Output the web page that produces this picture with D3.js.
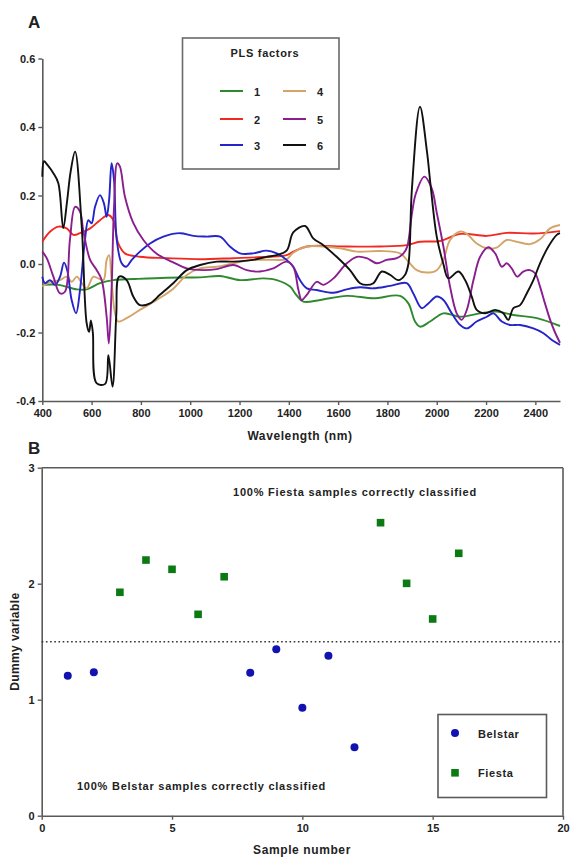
<!DOCTYPE html>
<html><head><meta charset="utf-8">
<script src="https://cdn.jsdelivr.net/npm/d3@7"></script>
<style>
body{margin:0;background:#fff;}
text{font-family:"Liberation Sans",Arial,sans-serif;font-weight:bold;fill:#222;}
</style></head>
<body><svg id="c" width="570" height="857"></svg>
<script>
// ---------- Panel A data: PLS factor loadings ----------
const factorNames = ["1","2","3","4","5","6"];
const factorColors = ["#2f8a2f","#f02a20","#2424c8","#d4a468","#8a1e8e","#111111"];
const f1 = [[400,-0.061],[465,-0.061],[540,-0.074],[580,-0.074],[634,-0.056],[688,-0.047],[769,-0.044],[905,-0.04],[1040,-0.039],[1121,-0.035],[1202,-0.047],[1297,-0.042],[1351,-0.047],[1405,-0.066],[1430,-0.09],[1459,-0.11],[1527,-0.105],[1635,-0.093],[1743,-0.1],[1851,-0.093],[1885,-0.115],[1912,-0.168],[1932,-0.183],[1973,-0.168],[2027,-0.144],[2095,-0.154],[2176,-0.144],[2243,-0.139],[2311,-0.149],[2406,-0.158],[2500,-0.181]];
const f2 = [[400,0.065],[431,0.094],[465,0.109],[499,0.104],[526,0.085],[553,0.09],[594,0.104],[634,0.128],[668,0.143],[688,0.128],[708,0.06],[735,0.031],[796,0.021],[905,0.017],[1040,0.014],[1175,0.017],[1311,0.021],[1391,0.026],[1418,0.036],[1473,0.051],[1635,0.051],[1770,0.051],[1878,0.055],[1932,0.065],[2013,0.067],[2095,0.088],[2203,0.082],[2284,0.091],[2392,0.089],[2500,0.096]];
const f3 = [[400,-0.037],[411,-0.056],[431,-0.047],[452,-0.061],[472,-0.037],[488,0.004],[501,-0.018],[519,-0.105],[537,-0.144],[553,-0.076],[573,0.07],[587,0.128],[600,0.119],[614,0.167],[634,0.201],[650,0.177],[661,0.138],[671,0.187],[681,0.294],[691,0.245],[702,0.07],[722,0.002],[740,-0.008],[763,0.012],[796,0.036],[837,0.06],[891,0.08],[959,0.09],[1013,0.082],[1067,0.08],[1121,0.08],[1161,0.051],[1202,0.031],[1256,0.031],[1310,0.039],[1351,0.031],[1391,0.012],[1418,-0.008],[1445,-0.047],[1473,-0.071],[1513,-0.076],[1581,-0.084],[1635,-0.074],[1689,-0.068],[1743,-0.071],[1811,-0.064],[1878,-0.056],[1905,-0.086],[1939,-0.129],[1966,-0.115],[2000,-0.095],[2027,-0.105],[2061,-0.144],[2095,-0.178],[2122,-0.188],[2162,-0.168],[2203,-0.154],[2230,-0.144],[2264,-0.168],[2297,-0.178],[2338,-0.178],[2392,-0.188],[2433,-0.202],[2467,-0.222],[2500,-0.236]];
const f4 = [[400,-0.066],[431,-0.052],[472,-0.047],[499,-0.037],[519,-0.052],[540,-0.037],[560,-0.056],[580,-0.071],[607,-0.037],[627,-0.042],[648,-0.047],[661,0.012],[671,0.026],[681,-0.047],[695,-0.144],[708,-0.168],[742,-0.158],[796,-0.134],[864,-0.105],[931,-0.072],[986,-0.032],[1040,-0.013],[1108,-0.008],[1175,0.002],[1256,0.012],[1337,0.012],[1391,0.014],[1418,0.033],[1473,0.051],[1540,0.051],[1608,0.046],[1676,0.036],[1770,0.038],[1851,0.031],[1885,0.007],[1919,-0.018],[1959,-0.025],[2000,-0.018],[2027,0.012],[2054,0.07],[2095,0.095],[2122,0.088],[2162,0.06],[2203,0.046],[2243,0.048],[2284,0.07],[2324,0.065],[2378,0.058],[2419,0.072],[2460,0.104],[2500,0.114]];
const f5 = [[400,0.036],[418,0.017],[445,-0.037],[472,-0.086],[492,-0.081],[512,0.07],[533,0.167],[553,0.153],[566,0.099],[594,0.012],[621,-0.018],[641,-0.047],[661,-0.154],[670,-0.232],[681,-0.076],[691,0.167],[704,0.294],[715,0.284],[735,0.197],[769,0.12],[810,0.07],[864,0.03],[931,0.005],[986,-0.013],[1053,-0.018],[1108,-0.015],[1176,-0.003],[1229,-0.018],[1283,-0.022],[1337,-0.013],[1391,0.007],[1418,-0.008],[1439,-0.076],[1452,-0.105],[1473,-0.09],[1513,-0.052],[1540,-0.061],[1581,-0.042],[1635,0.002],[1676,0.021],[1716,0.017],[1757,0.002],[1797,0.012],[1838,0.017],[1865,0.031],[1880,0.05],[1900,0.15],[1915,0.205],[1950,0.255],[1980,0.22],[2000,0.15],[2027,0.051],[2054,-0.066],[2081,-0.144],[2101,-0.163],[2122,-0.134],[2149,-0.047],[2176,0.021],[2209,0.049],[2237,0.031],[2264,-0.008],[2284,0.002],[2304,-0.013],[2327,-0.037],[2351,-0.022],[2378,-0.018],[2399,-0.027],[2419,-0.066],[2439,-0.115],[2460,-0.163],[2480,-0.2],[2500,-0.23]];
const f6 = [[400,0.255],[407,0.30],[420,0.29],[445,0.265],[465,0.236],[485,0.105],[500,0.18],[515,0.27],[533,0.328],[560,0.109],[580,-0.173],[590,-0.198],[597,-0.165],[605,-0.2],[620,-0.348],[655,-0.35],[668,-0.266],[685,-0.358],[700,-0.15],[712,-0.037],[742,-0.047],[769,-0.095],[796,-0.12],[837,-0.115],[877,-0.09],[931,-0.056],[986,-0.018],[1040,-0.003],[1108,0.007],[1174,0.007],[1255,0.012],[1311,0.021],[1351,0.026],[1392,0.04],[1418,0.092],[1466,0.111],[1499,0.075],[1540,0.055],[1594,0.021],[1648,-0.018],[1689,-0.056],[1716,-0.061],[1743,-0.056],[1777,-0.022],[1811,-0.032],[1844,-0.047],[1871,-0.032],[1885,0.0],[1899,0.216],[1932,0.459],[1960,0.33],[1975,0.23],[2000,0.08],[2027,0.0],[2047,-0.042],[2088,-0.022],[2115,-0.047],[2142,-0.095],[2162,-0.134],[2196,-0.144],[2237,-0.134],[2270,-0.144],[2290,-0.163],[2311,-0.129],[2338,-0.12],[2365,-0.086],[2392,-0.047],[2419,0.002],[2453,0.051],[2487,0.085],[2500,0.09]];
const factors = [f1,f2,f3,f4,f5,f6];
const xTicksA = [400,600,800,1000,1200,1400,1600,1800,2000,2200,2400];
const yTicksA = [-0.4,-0.2,0.0,0.2,0.4,0.6];

// ---------- Panel B data: dummy variable predictions ----------
const belstarSample = [1,2,8,9,10,11,12];
const belstarValue  = [1.207,1.236,1.233,1.434,0.931,1.379,0.59];
const fiestaSample  = [3,4,5,6,7,13,14,15,16];
const fiestaValue   = [1.926,2.204,2.124,1.736,2.06,2.526,2.003,1.696,2.262];
const threshold = 1.5;
const xTicksB = [0,5,10,15,20];
const yTicksB = [0,1,2,3];

const svg = d3.select("#c");
const axisColor = "#5a5a5a";

function styleAxis(g){
  g.select(".domain").attr("stroke",axisColor).attr("stroke-width",1.6);
  g.selectAll(".tick line").attr("stroke",axisColor).attr("stroke-width",1.4);
  g.selectAll(".tick text").attr("font-size",11).attr("font-family","Liberation Sans, Arial, sans-serif").attr("font-weight","bold").attr("fill","#222");
}

// ===== Panel A =====
const xA = d3.scaleLinear().domain([400,2500]).range([42.3,560]);
const yA = d3.scaleLinear().domain([-0.4,0.6]).range([401,58.5]);

svg.append("text").attr("x",28).attr("y",28).attr("font-size",17).text("A");

const gxA = svg.append("g").attr("transform","translate(0,401)")
  .call(d3.axisBottom(xA).tickValues(xTicksA).tickSize(4).tickSizeOuter(0).tickPadding(4).tickFormat(d3.format("d")));
styleAxis(gxA);
const gyA = svg.append("g").attr("transform","translate(42.3,0)")
  .call(d3.axisLeft(yA).tickValues(yTicksA).tickSize(4).tickSizeOuter(0).tickPadding(3).tickFormat(d3.format(".1f")));
styleAxis(gyA);
gyA.selectAll(".tick text").text(d=>d3.format(".1f")(d).replace("−","-"));

svg.append("text").attr("x",300).attr("y",440).attr("text-anchor","middle").attr("font-size",12)
  .attr("letter-spacing",0.6).text("Wavelength (nm)");

const lineA = d3.line().x(d=>xA(d[0])).y(d=>yA(d[1])).curve(d3.curveCatmullRom.alpha(0.5));
// draw order: green, red, tan, blue, purple, black
[0,1,3,2,4,5].forEach(i=>{
  svg.append("path").attr("d",lineA(factors[i])).attr("fill","none")
    .attr("stroke",factorColors[i]).attr("stroke-width",1.9).attr("stroke-linejoin","round");
});

// legend A
const legA = svg.append("g");
legA.append("rect").attr("x",182.5).attr("y",38).attr("width",156.5).attr("height",131)
  .attr("fill","#fff").attr("stroke","#6a6a6a").attr("stroke-width",1.6);
legA.append("text").attr("x",265).attr("y",57).attr("text-anchor","middle").attr("font-size",11)
  .attr("letter-spacing",0.7).text("PLS factors");
const legRowsY = [91,119,145];
factorNames.forEach((n,i)=>{
  const col = Math.floor(i/3), row = i%3;
  const lx = col===0 ? 220 : 283;
  legA.append("line").attr("x1",lx).attr("x2",lx+23).attr("y1",legRowsY[row]).attr("y2",legRowsY[row])
    .attr("stroke",factorColors[i]).attr("stroke-width",2);
  legA.append("text").attr("x",lx+34).attr("y",legRowsY[row]+4.5).attr("font-size",11).text(n);
});

// ===== Panel B =====
const xB = d3.scaleLinear().domain([0,20]).range([41.7,563]);
const yB = d3.scaleLinear().domain([0,3]).range([815.7,467.7]);

svg.append("text").attr("x",28).attr("y",454).attr("font-size",17).text("B");

// frame top/right
svg.append("line").attr("x1",xB(0)).attr("x2",xB(20)).attr("y1",yB(3)).attr("y2",yB(3)).attr("stroke",axisColor).attr("stroke-width",1.6);
svg.append("line").attr("x1",xB(20)).attr("x2",xB(20)).attr("y1",yB(3)).attr("y2",yB(0)).attr("stroke",axisColor).attr("stroke-width",1.6);

const gxB = svg.append("g").attr("transform","translate(0,815.7)")
  .call(d3.axisBottom(xB).tickValues(xTicksB).tickSize(4).tickSizeOuter(0).tickPadding(5).tickFormat(d3.format("d")));
styleAxis(gxB);
const gyB = svg.append("g").attr("transform","translate(41.7,0)")
  .call(d3.axisLeft(yB).tickValues(yTicksB).tickSize(4).tickSizeOuter(0).tickPadding(3).tickFormat(d3.format("d")));
styleAxis(gyB);

svg.append("text").attr("x",302).attr("y",854).attr("text-anchor","middle").attr("font-size",12)
  .attr("letter-spacing",0.6).text("Sample number");
svg.append("text").attr("transform","translate(19,641.7) rotate(-90)").attr("text-anchor","middle").attr("font-size",12)
  .attr("letter-spacing",0.4).text("Dummy variable");

svg.append("line").attr("x1",xB(0)).attr("x2",xB(20)).attr("y1",yB(threshold)).attr("y2",yB(threshold))
  .attr("stroke","#333").attr("stroke-width",1.6).attr("stroke-dasharray","1.6,2.6");

svg.append("text").attr("x",233).attr("y",496).attr("font-size",11).attr("letter-spacing",0.78)
  .text("100% Fiesta samples correctly classified");
svg.append("text").attr("x",77).attr("y",790).attr("font-size",11).attr("letter-spacing",0.75)
  .text("100% Belstar samples correctly classified");

const blue = "#1212b0", green = "#0c7a14";
svg.selectAll("circle.bel").data(belstarSample).enter().append("circle")
  .attr("cx",(d)=>xB(d)).attr("cy",(d,i)=>yB(belstarValue[i])).attr("r",4).attr("fill",blue);
svg.selectAll("rect.fie").data(fiestaSample).enter().append("rect")
  .attr("x",d=>xB(d)-3.8).attr("y",(d,i)=>yB(fiestaValue[i])-3.8).attr("width",7.6).attr("height",7.6).attr("fill",green);

// legend B
const legB = svg.append("g");
legB.append("rect").attr("x",438).attr("y",714.5).attr("width",108.5).attr("height",83)
  .attr("fill","#fff").attr("stroke","#5a5a5a").attr("stroke-width",1.6);
legB.append("circle").attr("cx",455).attr("cy",733).attr("r",4).attr("fill",blue);
legB.append("text").attr("x",478).attr("y",737.5).attr("font-size",11).attr("letter-spacing",0.6).text("Belstar");
legB.append("rect").attr("x",451.2).attr("y",769).attr("width",7.6).attr("height",7.6).attr("fill",green);
legB.append("text").attr("x",478).attr("y",777).attr("font-size",11).attr("letter-spacing",0.6).text("Fiesta");
</script></body></html>
